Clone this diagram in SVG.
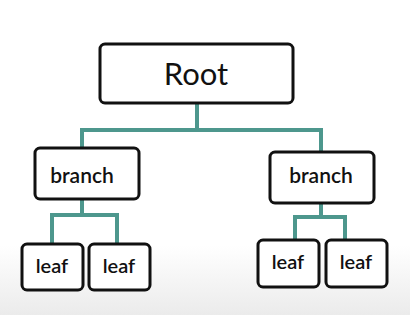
<svg xmlns="http://www.w3.org/2000/svg" width="410" height="315" viewBox="0 0 410 315">
<defs>
<linearGradient id="bg" x1="0" y1="0" x2="0" y2="1">
<stop offset="0" stop-color="#ffffff"/>
<stop offset="0.78" stop-color="#ffffff"/>
<stop offset="1" stop-color="#ebebeb"/>
</linearGradient>
</defs>
<style>
.box{fill:#ffffff;stroke:#111111;stroke-width:3;}
.con{fill:none;stroke:#4d978d;stroke-width:4;stroke-linejoin:miter;}
text{font-family:Lato,"Open Sans",sans-serif;fill:#111111;text-anchor:middle;}
.root{font-size:31px;}
.br{font-size:21px;font-weight:600;}
.lf{font-size:20px;font-weight:600;}
</style>
<rect x="0" y="0" width="410" height="315" fill="url(#bg)"/>
<g id="connectors">
<path class="con" d="M197 104 V130 M82 147 V130 H321 V151"/>
<path class="con" d="M82 199 V215 M52 243 V215 H117 V243"/>
<path class="con" d="M321 203 V217 M295 239 V217 H345 V239"/>
</g>
<g id="root"><rect class="box" x="100" y="44" width="193" height="59" rx="5"/><text class="root" x="196" y="85">Root</text></g>
<g id="branch1"><rect class="box" x="35" y="148" width="104" height="51" rx="5"/><text class="br" x="82" y="183">branch</text></g>
<g id="branch2"><rect class="box" x="270" y="152" width="104" height="51" rx="5"/><text class="br" x="321" y="183">branch</text></g>
<g id="leaf1"><rect class="box" x="22" y="244" width="61" height="46" rx="5"/><text class="lf" x="52" y="273">leaf</text></g>
<g id="leaf2"><rect class="box" x="89" y="244" width="61" height="46" rx="5"/><text class="lf" x="119" y="273">leaf</text></g>
<g id="leaf3"><rect class="box" x="258" y="240" width="61" height="47" rx="5"/><text class="lf" x="288" y="269">leaf</text></g>
<g id="leaf4"><rect class="box" x="326" y="240" width="61" height="47" rx="5"/><text class="lf" x="356" y="269">leaf</text></g>
</svg>
